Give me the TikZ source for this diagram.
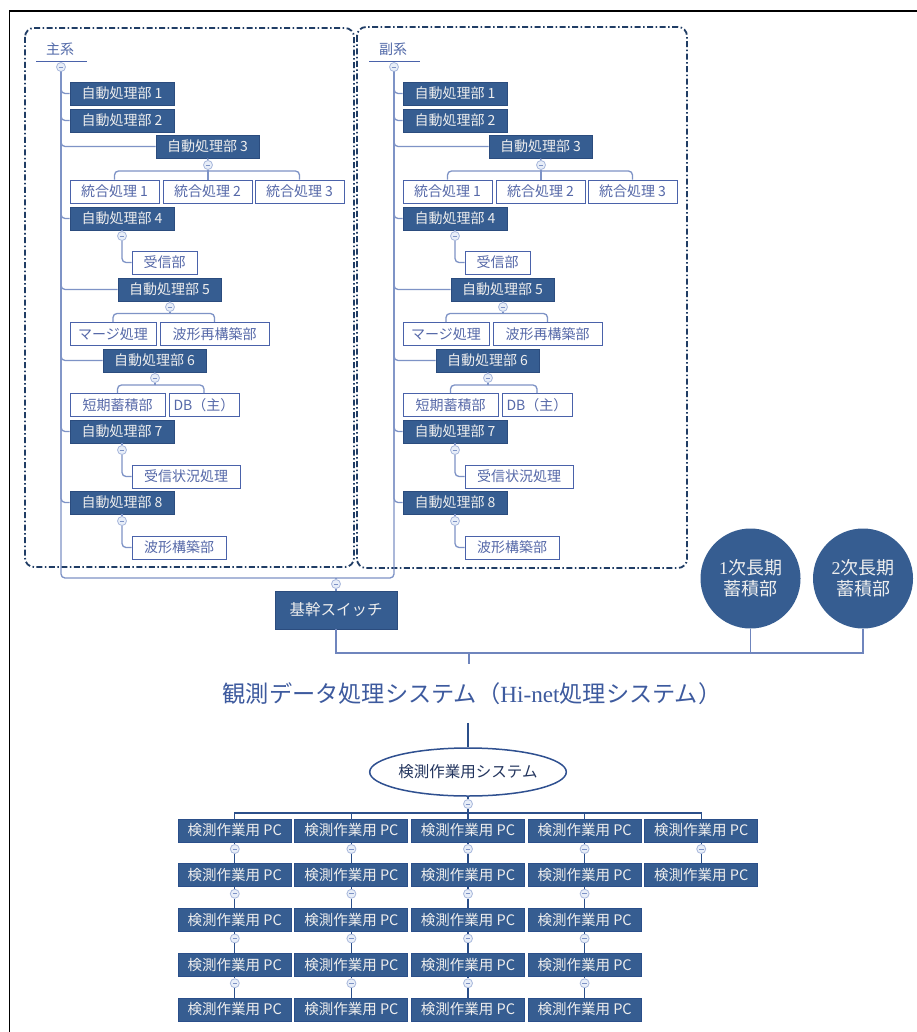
\documentclass[tikz,border=0pt]{standalone}
\usepackage{fontspec}
\setmainfont{Noto Sans CJK JP}
\newfontfamily\lserif{Liberation Serif}
\usetikzlibrary{shapes.geometric}
\definecolor{dfill}{HTML}{365D91}
\definecolor{dline}{HTML}{2B4C7E}
\definecolor{dtext}{HTML}{EEEEEE}
\definecolor{wline}{HTML}{4A62AA}
\definecolor{wtext}{HTML}{5568A8}
\definecolor{tline}{HTML}{7E93C6}
\definecolor{togfill}{HTML}{E8EEF8}
\definecolor{togline}{HTML}{A8B8DC}
\definecolor{grpline}{HTML}{203D65}
\definecolor{lblcol}{HTML}{5068A8}
\definecolor{titlecol}{HTML}{3D5A9E}
\definecolor{swline}{HTML}{6F85BD}
\definecolor{pcline}{HTML}{2B4F8A}
\definecolor{ellline}{HTML}{2F5090}
\definecolor{elltext}{HTML}{23355E}
\tikzset{
  dbox/.style={rectangle, fill=dfill, draw=dline, line width=0.8pt, text=dtext, inner sep=0pt, minimum height=23pt, font=\fontsize{14}{14}\selectfont},
  wbox/.style={rectangle, fill=white, draw=wline, line width=0.9pt, text=wtext, inner sep=0pt, minimum height=23pt, font=\fontsize{14}{14}\selectfont},
  pcbox/.style={rectangle, fill=dfill, draw=pcline, line width=1pt, text=dtext, inner sep=0pt, minimum height=23pt, minimum width=113pt, font=\fontsize{14.5}{14.5}\selectfont},
  conn/.style={draw=tline, line width=1.3pt, rounded corners=4pt},
  conn2/.style={draw=pcline, line width=1.2pt},
  conn3/.style={draw=swline, line width=1.3pt},
  tog/.style={circle, draw=togline, fill=togfill, minimum size=9pt, inner sep=0pt, line width=0.8pt,
    path picture={\draw[draw=tline, line width=0.8pt] ([xshift=-2.3pt]path picture bounding box.center) -- ([xshift=2.3pt]path picture bounding box.center);}},
  grp/.style={draw=grpline, line width=1.8pt, rounded corners=9pt, dash pattern=on 6pt off 2.5pt on 1.5pt off 2.5pt},
  lbl/.style={text=lblcol, inner sep=0pt, font=\fontsize{14}{14}\selectfont},
  uline/.style={draw=wline, line width=1pt},
  disk/.style={circle, fill=dfill, draw=none, minimum size=100pt, inner sep=0pt, text=dtext, align=center, font=\fontsize{18}{21}\selectfont},
}
\newcommand\drawtree[2]{%
  \node[lbl] (#1lab) at (60,49) {#2};
  \coordinate (#1u1) at (36,61.3);
  \coordinate (#1u2) at (87,61.3);
  \draw[uline] (#1u1) -- (#1u2);
  \node[tog] (#1t0) at (61,67) {};
  \node[dbox, minimum width=104pt] (#1m1) at (122,93.5) {自動処理部 1};
  \node[dbox, minimum width=104pt] (#1m2) at (122,120.5) {自動処理部 2};
  \node[dbox, minimum width=103pt] (#1m3) at (207.5,146.5) {自動処理部 3};
  \node[tog] (#1t3) at (208,165) {};
  \coordinate (#1b3) at (208,171);
  \node[wbox, minimum width=89pt] (#1c31) at (114.5,191.5) {統合処理 1};
  \node[wbox, minimum width=89pt] (#1c32) at (207.5,191.5) {統合処理 2};
  \node[wbox, minimum width=89pt] (#1c33) at (299.5,191.5) {統合処理 3};
  \node[dbox, minimum width=104pt] (#1m4) at (122,218.5) {自動処理部 4};
  \node[tog] (#1t4) at (122,236) {};
  \node[wbox, minimum width=65pt] (#1c4) at (164.5,262.5) {受信部};
  \node[dbox, minimum width=103pt] (#1m5) at (169.5,289.5) {自動処理部 5};
  \node[tog] (#1t5) at (170,307) {};
  \coordinate (#1b5) at (170,313.5);
  \node[wbox, minimum width=86pt] (#1c51) at (113,334) {マージ処理};
  \node[wbox, minimum width=109pt] (#1c52) at (214.5,334) {波形再構築部};
  \node[dbox, minimum width=103pt] (#1m6) at (154.5,360.5) {自動処理部 6};
  \node[tog] (#1t6) at (155,378) {};
  \coordinate (#1b6) at (155,385);
  \node[wbox, minimum width=95pt] (#1c61) at (117.5,405) {短期蓄積部};
  \node[wbox, minimum width=70pt] (#1c62) at (204,405) {DB（主）};
  \node[dbox, minimum width=104pt] (#1m7) at (122,431.5) {自動処理部 7};
  \node[tog] (#1t7) at (122,450) {};
  \node[wbox, minimum width=108pt] (#1c7) at (186,476.5) {受信状況処理};
  \node[dbox, minimum width=104pt] (#1m8) at (122,502.5) {自動処理部 8};
  \node[tog] (#1t8) at (122,521) {};
  \node[wbox, minimum width=94pt] (#1c8) at (179,547.5) {波形構築部};
  % trunk branches
  \draw[conn] (#1t0.south) |- (#1m1.west);
  \draw[conn] (#1t0.south) |- (#1m2.west);
  \draw[conn] (#1t0.south) |- (#1m3.west);
  \draw[conn] (#1t0.south) |- (#1m4.west);
  \draw[conn] (#1t0.south) |- (#1m5.west);
  \draw[conn] (#1t0.south) |- (#1m6.west);
  \draw[conn] (#1t0.south) |- (#1m7.west);
  \draw[conn] (#1t0.south) |- (#1m8.west);
  % children
  \draw[conn] (#1m3.south) -- (#1t3.north);
  \draw[conn] (#1t3.south) -- (#1b3);
  \draw[conn] (#1b3) -| (#1c31.north);
  \draw[conn] (#1b3) -| (#1c33.north);
  \draw[conn] (#1b3) -- (#1b3 |- #1c32.north);
  \draw[conn] (#1m4.south) -- (#1t4.north);
  \draw[conn] (#1t4.south) |- (#1c4.west);
  \draw[conn] (#1m5.south) -- (#1t5.north);
  \draw[conn] (#1t5.south) -- (#1b5);
  \draw[conn] (#1b5) -| (#1c51.north);
  \draw[conn] (#1b5) -| (#1c52.north);
  \draw[conn] (#1m6.south) -- (#1t6.north);
  \draw[conn] (#1t6.south) -- (#1b6);
  \draw[conn] (#1b6) -| (#1c61.north);
  \draw[conn] (#1b6) -| (#1c62.north);
  \draw[conn] (#1m7.south) -- (#1t7.north);
  \draw[conn] (#1t7.south) |- (#1c7.west);
  \draw[conn] (#1m8.south) -- (#1t8.north);
  \draw[conn] (#1t8.south) |- (#1c8.west);
}
\begin{document}
\begin{tikzpicture}[x=1pt,y=-1pt]
\useasboundingbox (0,0) rectangle (917,1032);
\fill[white] (0,0) rectangle (917,1032);
% outer frame (top and left)
\coordinate (f0) at (9.5,11);
\coordinate (f1) at (917,11);
\coordinate (f2) at (9.5,1032);
\draw[black, line width=1.5pt] (f1) -- (f0) -- (f2);
% group frames
\draw[grp] (25,28) rectangle (354,567);
\draw[grp] (357,27) rectangle (687,568);
% trees
\drawtree{L}{主系}
\begin{scope}[xshift=333pt]
\drawtree{R}{副系}
\end{scope}
% join of trunks
\coordinate (jm) at (61,578);
\coordinate (js) at (394,578);
\draw[conn] (Lt0.south) -- (jm) -- (js) -- (Rt0.south);
% switch
\node[tog] (tsw) at (336,584) {};
\node[dbox, minimum width=122pt, minimum height=38pt, font=\fontsize{15.5}{15.5}\selectfont] (sw) at (336,610) {基幹スイッチ};
\draw[conn] (tsw.north) -- (tsw.north |- jm);
\draw[conn] (tsw.south) -- (sw.north);
% storage
\node[disk] (s1) at (750.5,578.5) {{\lserif 1}次長期\\蓄積部};
\node[disk] (s2) at (863,578.5) {{\lserif 2}次長期\\蓄積部};
% title
\node[text=titlecol, inner xsep=0pt, inner ysep=18pt, font=\fontsize{23.2}{23.2}\selectfont] (title) at (472,693.5) {観測データ処理システム（{\lserif Hi-net}処理システム）};
\coordinate (bl) at (336,653);
\coordinate (br) at (863,653);
\coordinate (tj) at (469,653);
\draw[conn3] (sw.south) -- (bl) -- (br) -- (s2.south);
\draw[conn3] (s1.south) -- (s1.south |- bl);
\draw[conn3] (tj) -- (tj |- title.north);
% inspection system
\node[ellipse, draw=ellline, line width=1.5pt, fill=white, minimum width=170pt, minimum height=48pt, inner sep=0pt, text=elltext, font=\fontsize{15.5}{15.5}\selectfont] (ell) at (468,772) {検測作業用システム};
\draw[conn2] (ell.north |- title.south) -- (ell.north);
\node[tog] (te) at (468,804) {};
\draw[conn2] (ell.south) -- (te.north);
\coordinate (bb) at (468,813);
\draw[conn2] (te.south) -- (bb);
\foreach \i/\cx/\n in {1/234.8/5,2/351.4/5,3/468/5,4/584.6/5,5/701.2/2}{
  \foreach \r in {1,...,\n}{
    \node[pcbox] (pc\i-\r) at (\cx,{830.5+44.75*(\r-1)}) {検測作業用 PC};
  }
  \pgfmathtruncatemacro\m{\n-1}
  \foreach \r in {1,...,\m}{
    \pgfmathtruncatemacro\nx{\r+1}
    \node[tog] (tp\i-\r) at (\cx,{849+44.75*(\r-1)}) {};
    \draw[conn2] (pc\i-\r.south) -- (tp\i-\r.north);
    \draw[conn2] (tp\i-\r.south) -- (pc\i-\nx.north);
  }
}
\draw[conn2] (pc1-1.north) |- (bb) -| (pc5-1.north);
\draw[conn2] (pc2-1.north) -- (pc2-1.north |- bb);
\draw[conn2] (pc3-1.north) -- (pc3-1.north |- bb);
\draw[conn2] (pc4-1.north) -- (pc4-1.north |- bb);
\end{tikzpicture}
\end{document}
